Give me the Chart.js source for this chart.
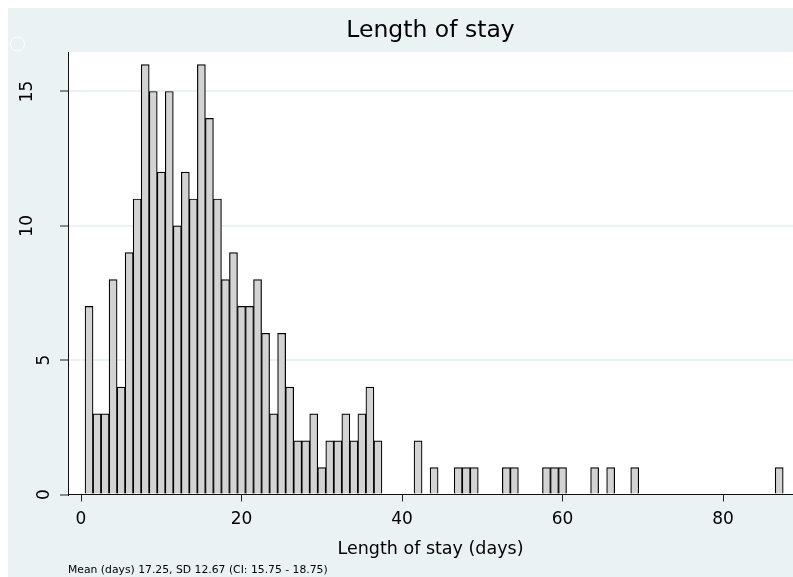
<!DOCTYPE html>
<html>
<head>
<meta charset="utf-8">
<script src="https://cdn.jsdelivr.net/npm/chart.js@4.4.1/dist/chart.umd.min.js"></script>
<style>
  html, body { margin: 0; padding: 0; background: #ffffff; }
  #wrap { width: 793px; height: 577px; position: relative; }
</style>
</head>
<body>
<div id="wrap"><canvas id="c"></canvas></div>
<script>
// ---- data ----
const days = [1, 2, 3, 4, 5, 6, 7, 8, 9, 10, 11, 12, 13, 14, 15, 16, 17, 18, 19, 20,
              21, 22, 23, 24, 25, 26, 27, 28, 29, 30, 31, 32, 33, 34, 35, 36, 37,
              42, 44, 47, 48, 49, 53, 54, 58, 59, 60, 64, 66, 69, 87];
const counts = [7, 3, 3, 8, 4, 9, 11, 16, 15, 12, 15, 10, 12, 11, 16, 14, 11, 8, 9, 7,
                7, 8, 6, 3, 6, 4, 2, 2, 3, 1, 2, 2, 3, 2, 3, 4, 2,
                2, 1, 1, 1, 1, 1, 1, 1, 1, 1, 1, 1, 1, 1];
const xTicks = [0, 20, 40, 60, 80];
const yTicks = [0, 5, 10, 15];
const chartTitle = 'Length of stay';
const xTitle = 'Length of stay (days)';
const footnote = 'Mean (days) 17.25, SD 12.67 (CI: 15.75 - 18.75)';

const GREY = '#eaf2f3';

const bgPlugin = {
  id: 'stataBg',
  beforeDraw(chart) {
    const ctx = chart.ctx;
    const a = chart.chartArea;
    ctx.save();
    ctx.fillStyle = '#ffffff';
    ctx.fillRect(0, 0, chart.width, chart.height);
    ctx.fillStyle = GREY;
    ctx.fillRect(8, 8, chart.width - 8, chart.height - 8);
    ctx.fillStyle = '#ffffff';
    ctx.fillRect(a.left, a.top, a.right - a.left, a.bottom - a.top);
    ctx.strokeStyle = '#ffffff';
    ctx.lineWidth = 1;
    ctx.beginPath();
    ctx.arc(17.5, 44, 7, 0, Math.PI * 2);
    ctx.stroke();
    ctx.restore();
  }
};

Chart.defaults.font.family = "'DejaVu Sans', 'Liberation Sans', Arial, sans-serif";
Chart.defaults.color = '#000000';

new Chart(document.getElementById('c'), {
  type: 'bar',
  data: {
    datasets: [{
      data: days.map((d, i) => ({ x: d, y: counts[i] })),
      backgroundColor: '#d3d3d3',
      borderColor: '#000000',
      borderWidth: 1.2,
      borderSkipped: 'start',
      categoryPercentage: 1.0,
      barPercentage: 1.0
    }]
  },
  options: {
    responsive: true,
    maintainAspectRatio: false,
    animation: false,
    events: [],
    layout: { padding: { left: 0, right: 0, top: 0, bottom: 0 } },
    plugins: {
      legend: { display: false },
      tooltip: { enabled: false },
      title: {
        display: true,
        text: chartTitle,
        fullSize: false,
        font: { size: 23.5, weight: 'normal', lineHeight: 1 },
        color: '#000000',
        padding: { top: 19.25, bottom: 9.25 }
      },
      subtitle: {
        display: true,
        text: footnote,
        position: 'bottom',
        align: 'start',
        fullSize: false,
        font: { size: 10.8, weight: 'normal', lineHeight: 1 },
        color: '#000000',
        padding: { top: 0, bottom: 1.6 }
      }
    },
    scales: {
      x: {
        type: 'linear',
        offset: false,
        min: -1.62,
        max: 88.72,
        afterBuildTicks: (s) => { s.ticks = xTicks.map(v => ({ value: v })); },
        grid: {
          offset: false,
          drawOnChartArea: false,
          drawTicks: true,
          tickLength: 7,
          tickColor: '#222222',
          tickWidth: 1
        },
        border: { display: true, color: '#111111', width: 1 },
        ticks: {
          padding: 9.5,
          maxRotation: 0,
          minRotation: 0,
          font: { size: 17, lineHeight: 1 },
          color: '#000000'
        },
        title: {
          display: true,
          text: xTitle,
          font: { size: 17.5, lineHeight: 1 },
          color: '#000000',
          padding: { top: 2.75, bottom: 6.85 }
        }
      },
      y: {
        type: 'linear',
        min: 0,
        max: 16.47,
        afterBuildTicks: (s) => { s.ticks = yTicks.map(v => ({ value: v })); },
        afterFit: (s) => { s.width = 68; },
        grid: {
          drawOnChartArea: true,
          drawTicks: true,
          tickLength: 8,
          lineWidth: 2,
          tickWidth: 1,
          color: (ctx) => (ctx.tick && ctx.tick.value === 0) ? 'rgba(0,0,0,0)' : GREY,
          tickColor: '#222222'
        },
        border: { display: true, color: '#111111', width: 1 },
        ticks: {
          minRotation: 90,
          maxRotation: 90,
          crossAlign: 'center',
          padding: 12.9,
          font: { size: 17, lineHeight: 1 },
          color: '#000000',
          callback: (v) => { const s = String(v); return s.length > 1 ? [s, ''] : ['', s]; }
        }
      }
    }
  },
  plugins: [bgPlugin]
});
</script>
</body>
</html>
